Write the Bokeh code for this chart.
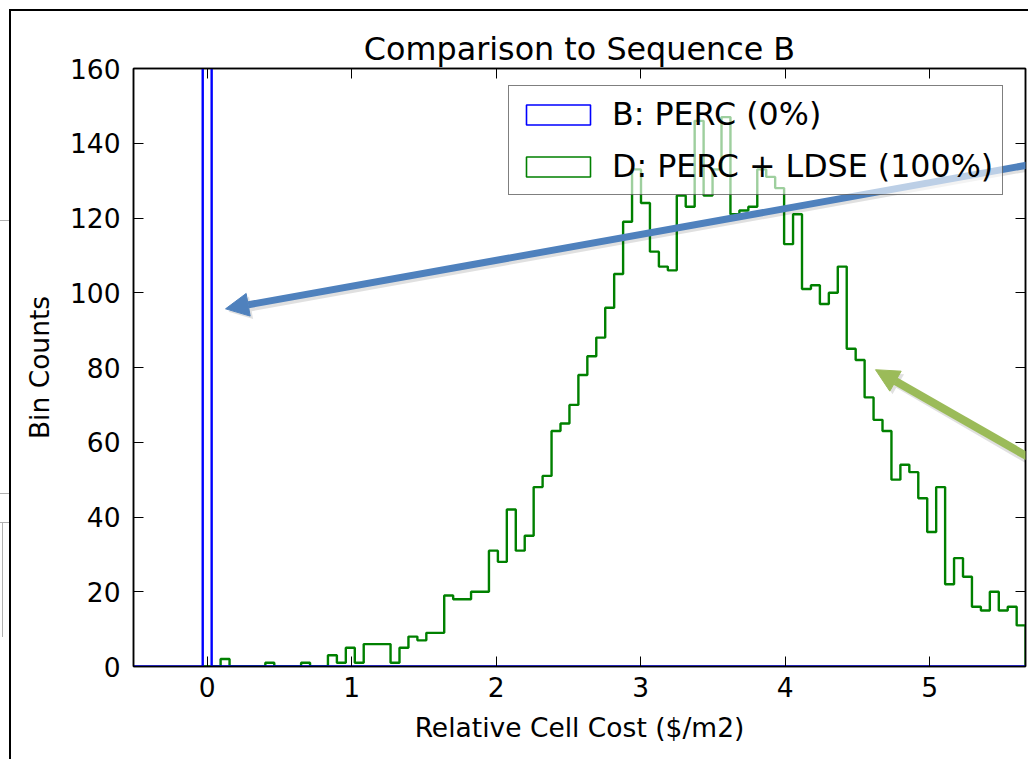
from bokeh.plotting import figure
from bokeh.models import (Range1d, LinearAxis, FixedTicker, Legend, LegendItem,
                          Arrow, NormalHead, CustomJSTickFormatter)
from bokeh.embed import file_html
from bokeh.resources import INLINE

# ---------------- data ----------------
title_text = "Comparison to Sequence B"
x_label = "Relative Cell Cost ($/m2)"
y_label = "Bin Counts"
label_b = "B: PERC (0%)"
label_d = "D: PERC + LDSE (100%)"

bin_start = -0.031      # left edge of the bin that holds 0
bin_width = 0.0619

# D: PERC + LDSE (100%) histogram counts, bins from bin_start onward
d_counts = [0, 0, 2, 0, 0, 0, 0, 1, 0, 0,
            0, 1, 0, 0, 3, 1, 5, 1, 6, 6,
            6, 1, 5, 8, 7, 9, 9, 19, 18, 18,
            20, 20, 31, 28, 42, 31, 35, 48, 51, 63,
            65, 70, 78, 83, 88, 96, 105, 119, 133, 124,
            111, 107, 106, 126, 123, 146, 126, 133, 147, 121,
            122, 123, 133, 131, 128, 113, 121, 101, 102, 97,
            100, 107, 85, 82, 72, 66, 63, 50, 54, 52,
            45, 36, 48, 22, 29, 24, 16, 15, 20, 15,
            16, 11]

# B: PERC (0%) histogram: every cell in the bin at 0 (count runs off the chart)
b_first_bin = -9
b_counts = [0] * 9 + [5000] + [0] * 95

x_ticks = [0, 1, 2, 3, 4, 5]
y_ticks = [0, 20, 40, 60, 80, 100, 120, 140, 160]

# overlaid annotation arrows (data units)
blue_arrow_start = (5.684, 134.2)
blue_arrow_end = (0.127, 95.7)
green_arrow_start = (5.684, 56.0)
green_arrow_end = (4.625, 79.4)

# ---------------- figure ----------------
FONT = "DejaVu Sans"
p = figure(width=1028, height=759, output_backend="svg", toolbar_location=None,
           x_range=Range1d(-0.510, 5.663), y_range=Range1d(0, 160),
           min_border_left=133, min_border_right=3, min_border_top=68,
           min_border_bottom=93)
p.border_fill_color = None
p.background_fill_color = "white"
p.outline_line_color = "black"
p.outline_line_width = 1.5
p.grid.visible = False

p.styles = {
    "background-color": "white",
    "background-image": ", ".join(["linear-gradient(#000,#000)"] * 2 +
                                  ["linear-gradient(#b0b0b0,#b0b0b0)"] * 4),
    "background-size": "2px 750px, 1019px 2px, 9px 1px, 9px 1px, 9px 1px, 1px 115px",
    "background-position": "9px 9px, 9px 9px, 0px 220px, 0px 493px, 0px 522px, 2px 522px",
    "background-repeat": "no-repeat",
}

# title
p.title.text = title_text
p.title.align = "center"
p.title.text_font = FONT
p.title.text_font_size = "31.8px"
p.title.text_font_style = "normal"
p.title.text_color = "black"
p.title.standoff = 4


def style_axis(ax, ticks, show_labels):
    ax.ticker = FixedTicker(ticks=ticks)
    ax.major_tick_in = 10
    ax.major_tick_out = 0
    ax.minor_tick_line_color = None
    ax.major_tick_line_color = "black"
    ax.major_tick_line_width = 1
    ax.axis_line_color = "black"
    ax.axis_line_width = 1.5
    ax.major_label_text_font = FONT
    ax.major_label_text_color = "black"
    if show_labels:
        ax.major_label_text_font_size = "26.5px"
    else:
        ax.formatter = CustomJSTickFormatter(code="return ''")
        ax.major_label_text_font_size = "1px"
        ax.major_label_standoff = 0


xa = p.xaxis[0]
ya = p.yaxis[0]
style_axis(xa, x_ticks, True)
style_axis(ya, y_ticks, True)
xa.major_label_standoff = 10
ya.major_label_standoff = 13
for ax, lab in ((xa, x_label), (ya, y_label)):
    ax.axis_label = lab
    ax.axis_label_text_font = FONT
    ax.axis_label_text_font_size = "26.5px"
    ax.axis_label_text_font_style = "normal"
    ax.axis_label_text_color = "black"
xa.axis_label_standoff = 12
ya.axis_label_standoff = 12

top_ax = LinearAxis()
right_ax = LinearAxis()
style_axis(top_ax, x_ticks, False)
style_axis(right_ax, y_ticks, False)
p.add_layout(top_ax, "above")
p.add_layout(right_ax, "right")

# ---------------- histograms (step outlines) ----------------
d_edges = [bin_start + i * bin_width for i in range(len(d_counts) + 1)]
d_x = [d_edges[0]] + d_edges
d_y = [0] + d_counts + [0]

b_edges = [bin_start + (b_first_bin + i) * bin_width for i in range(len(b_counts) + 1)]
b_x = [b_edges[0]] + b_edges
b_y = [0] + b_counts + [0]

p.step(d_x, d_y, mode="after", line_color="#008000", line_width=2.4)

# legend proxies: outlined patches built from each histogram's first (empty) bin
rb = p.quad(left=[b_edges[0]], right=[b_edges[1]], top=[b_counts[0]], bottom=[0],
            fill_color="white", line_color="#0000ff", line_width=1.6)
rd = p.quad(left=[d_edges[0]], right=[d_edges[1]], top=[d_counts[0]], bottom=[0],
            fill_color="white", line_color="#008000", line_width=1.6)

legend = Legend(items=[LegendItem(label=label_b, renderers=[rb]),
                       LegendItem(label=label_d, renderers=[rd])],
                location=(375, 471))
legend.label_text_font = FONT
legend.label_text_font_size = "31.7px"
legend.label_text_color = "black"
legend.glyph_width = 80
legend.glyph_height = 25
legend.label_standoff = 14
legend.label_height = 38
legend.padding = 9
legend.spacing = 14
legend.margin = 0
legend.border_line_color = "black"
legend.border_line_alpha = 0.5
legend.border_line_width = 1
legend.background_fill_color = "white"
legend.background_fill_alpha = 0.62
p.add_layout(legend, "center")

# B outline drawn over the proxies
p.step(b_x, b_y, mode="after", line_color="#0000ff", line_width=2.4)

# ---------------- overlaid arrows ----------------
for (xs, ys), (xe, ye), col, lw in ((blue_arrow_start, blue_arrow_end, "#4F81BD", 7),
                                   (green_arrow_start, green_arrow_end, "#9BBB59", 8)):
    p.add_layout(Arrow(x_start=xs, y_start=ys - 0.8, x_end=xe + 0.02, y_end=ye - 0.8,
                       line_color="black", line_alpha=0.12, line_width=lw,
                       end=NormalHead(size=23, fill_color="black", fill_alpha=0.12,
                                      line_color=None)))
    p.add_layout(Arrow(x_start=xs, y_start=ys, x_end=xe, y_end=ye,
                       line_color=col, line_width=lw,
                       end=NormalHead(size=23, fill_color=col, line_color=col,
                                      line_width=1)))

open("out.html", "w").write(file_html(p, INLINE))
